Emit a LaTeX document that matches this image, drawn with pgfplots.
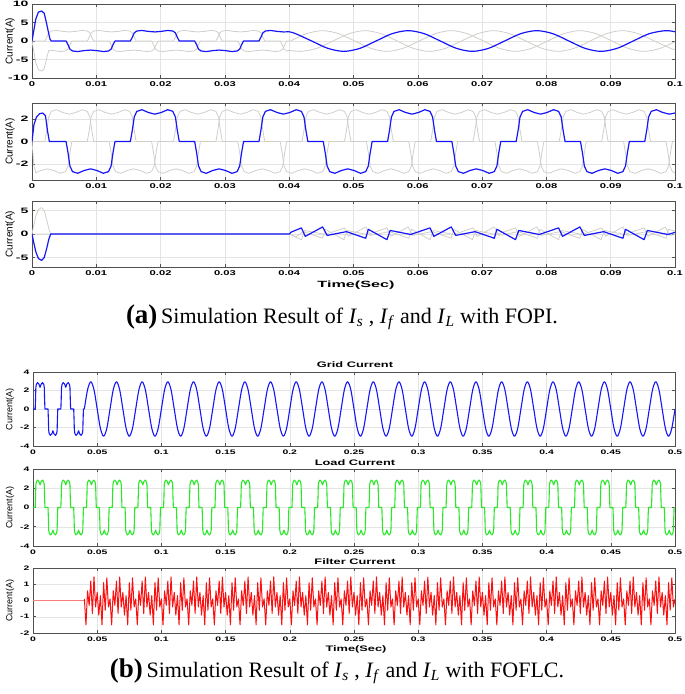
\documentclass[border=0pt]{standalone}
\usepackage{fontspec}
\setmainfont{Liberation Serif}
\newfontfamily\sansA[FakeStretch=1.8]{Liberation Sans}
\newfontfamily\sansB[FakeStretch=1.6]{Liberation Sans}
\newfontfamily\sansN{Liberation Sans}
\usepackage{pgfplots}
\pgfplotsset{compat=1.18}

\definecolor{mblue}{RGB}{22,22,250}
\definecolor{mgray}{RGB}{208,206,200}
\definecolor{mgreen}{RGB}{40,232,40}
\definecolor{mred}{RGB}{250,16,16}
\definecolor{gridc}{RGB}{228,228,228}
\definecolor{framec}{RGB}{80,80,80}

\pgfplotsset{
  panel/.style={scale only axis, anchor=north west, no marks, clip=true,
    axis line style={draw=framec,line width=0.6pt},
    tick style={draw=framec,line width=0.6pt},
    major tick length=3pt, tick align=inside,
    xmajorgrids, ymajorgrids, grid style={draw=gridc,line width=0.5pt}},
  apanel/.style={panel, width=643pt, xmin=0, xmax=100, xtick={0,10,...,100},
    xticklabels={0,0.01,0.02,0.03,0.04,0.05,0.06,0.07,0.08,0.09,0.1},
    xticklabel style={font=\sansB\bfseries\fontsize{7}{8}\selectfont},
    yticklabel style={font=\sansA\bfseries\fontsize{7.8}{8}\selectfont}},
  bpanel/.style={panel, width=642pt, xmin=0, xmax=500, xtick={0,50,...,500},
    xticklabels={0,0.05,0.1,0.15,0.2,0.25,0.3,0.35,0.4,0.45,0.5},
    ticklabel style={font=\sansB\bfseries\fontsize{6.5}{8}\selectfont}},
  bl/.style={mblue, line width=1.2pt, line join=round},
  gl/.style={mgray, line width=0.8pt, line join=round},
}

\begin{document}
\begin{tikzpicture}
\useasboundingbox (0,0) rectangle (685pt,-694pt);

% ---------------- (a) FOPI : source current ----------------
\begin{axis}[apanel, at={(32pt,-4pt)}, height=74pt, ymin=-10, ymax=10,
  ytick={-10,-5,0,5,10}, yticklabels={-10,-5,0,5,10}]
\addplot[gl] coordinates {(0,0)
(2,0)(2.3,1)(2.6,2.2)(3,2.7)(3.8,2.85)(4.8,2.6)(5.8,2.45)(6.8,2.6)(7.8,2.85)(8.6,2.7)(9,2.2)(9.3,1)(9.6,0)
(12,0)(12.3,-1)(12.6,-2.2)(13,-2.7)(13.8,-2.85)(14.8,-2.6)(15.8,-2.45)(16.8,-2.6)(17.8,-2.85)(18.6,-2.7)(19,-2.2)(19.3,-1)(19.6,0)
(22,0)(22.3,1)(22.6,2.2)(23,2.7)(23.8,2.85)(24.8,2.6)(25.8,2.45)(26.8,2.6)(27.8,2.85)(28.6,2.7)(29,2.2)(29.3,1)(29.6,0)
(32,0)(32.3,-1)(32.6,-2.2)(33,-2.7)(33.8,-2.85)(34.8,-2.6)(35.8,-2.45)(36.8,-2.6)(37.8,-2.85)(38.6,-2.7)(39,-2.2)(39.3,-1)(39.6,0)(40.2,0)};
\addplot[gl, smooth] coordinates {(40.2,0)(42.7,1.98)(45.2,2.8)(47.7,1.98)(50.2,0)(52.7,-1.98)(55.2,-2.8)(57.7,-1.98)(60.2,0)(62.7,1.98)(65.2,2.8)(67.7,1.98)(70.2,0)(72.7,-1.98)(75.2,-2.8)(77.7,-1.98)(80.2,0)(82.7,1.98)(85.2,2.8)(87.7,1.98)(90.2,0)(92.7,-1.98)(95.2,-2.8)(97.7,-1.98)(100,-0.2)};
\addplot[gl] coordinates {(0,0)(0.3,-3)(0.6,-6)(1,-7.8)(1.5,-8.1)(1.9,-7.5)(2.3,-4.5)(2.6,-2.6)(3,-2.5)(4.4,-2.85)(5.2,-2.7)(5.6,-2.2)(5.9,-1)(6.2,0)
(8.6,0)(8.9,1)(9.2,2.2)(9.6,2.7)(10.4,2.85)(11.4,2.6)(12.4,2.45)(13.4,2.6)(14.4,2.85)(15.2,2.7)(15.6,2.2)(15.9,1)(16.2,0)
(18.6,0)(18.9,-1)(19.2,-2.2)(19.6,-2.7)(20.4,-2.85)(21.4,-2.6)(22.4,-2.45)(23.4,-2.6)(24.4,-2.85)(25.2,-2.7)(25.6,-2.2)(25.9,-1)(26.2,0)
(28.6,0)(28.9,1)(29.2,2.2)(29.6,2.7)(30.4,2.85)(31.4,2.6)(32.4,2.45)(33.4,2.6)(34.4,2.85)(35.2,2.7)(35.6,2.2)(35.9,1)(36.2,0)
(38.6,0)(38.9,-1)(39.2,-2.2)(39.6,-2.7)(40,-2.5)};
\addplot[gl, smooth] coordinates {(40,-2.5)(41.8,-2.8)(44.3,-1.98)(46.8,0)(49.3,1.98)(51.8,2.8)(54.3,1.98)(56.8,0)(59.3,-1.98)(61.8,-2.8)(64.3,-1.98)(66.8,0)(69.3,1.98)(71.8,2.8)(74.3,1.98)(76.8,0)(79.3,-1.98)(81.8,-2.8)(84.3,-1.98)(86.8,0)(89.3,1.98)(91.8,2.8)(94.3,1.98)(96.8,0)(99.3,-1.98)(100,-2.36)};
\addplot[bl] coordinates {(0,0)(0.3,3)(0.6,6)(1,7.8)(1.5,8.1)(1.9,7.5)(2.3,4.5)(2.6,2)(2.8,0.5)(3,0)
(5.3,0)(5.6,-1)(5.9,-2.2)(6.3,-2.7)(7.1,-2.85)(8.1,-2.6)(9.1,-2.45)(10.1,-2.6)(11.1,-2.85)(11.9,-2.7)(12.3,-2.2)(12.6,-1)(12.9,0)
(15.3,0)(15.6,1)(15.9,2.2)(16.3,2.7)(17.1,2.85)(18.1,2.6)(19.1,2.45)(20.1,2.6)(21.1,2.85)(21.9,2.7)(22.3,2.2)(22.6,1)(22.9,0)
(25.3,0)(25.6,-1)(25.9,-2.2)(26.3,-2.7)(27.1,-2.85)(28.1,-2.6)(29.1,-2.45)(30.1,-2.6)(31.1,-2.85)(31.9,-2.7)(32.3,-2.2)(32.6,-1)(32.9,0)
(35.3,0)(35.6,1)(35.9,2.2)(36.3,2.7)(37.1,2.85)(38.1,2.6)(39.1,2.45)(40,2.5)};
\addplot[bl, smooth] coordinates {(40,2.5)(41,1.98)(43.5,0)(46,-1.98)(48.5,-2.8)(51,-1.98)(53.5,0)(56,1.98)(58.5,2.8)(61,1.98)(63.5,0)(66,-1.98)(68.5,-2.8)(71,-1.98)(73.5,0)(76,1.98)(78.5,2.8)(81,1.98)(83.5,0)(86,-1.98)(88.5,-2.8)(91,-1.98)(93.5,0)(96,1.98)(98.5,2.8)(100,2.5)};
\end{axis}

% ---------------- (a) FOPI : load current ----------------
\begin{axis}[apanel, at={(32pt,-103pt)}, height=77pt, ymin=-3.45, ymax=3.45,
  ytick={-2,0,2}, yticklabels={-2,0,2}]
\addplot[gl] coordinates {(0,0)
(2,0)(2.3,1)(2.6,2.2)(3,2.7)(3.8,2.85)(4.8,2.6)(5.8,2.45)(6.8,2.6)(7.8,2.85)(8.6,2.7)(9,2.2)(9.3,1)(9.6,0)
(12,0)(12.3,-1)(12.6,-2.2)(13,-2.7)(13.8,-2.85)(14.8,-2.6)(15.8,-2.45)(16.8,-2.6)(17.8,-2.85)(18.6,-2.7)(19,-2.2)(19.3,-1)(19.6,0)
(22,0)(22.3,1)(22.6,2.2)(23,2.7)(23.8,2.85)(24.8,2.6)(25.8,2.45)(26.8,2.6)(27.8,2.85)(28.6,2.7)(29,2.2)(29.3,1)(29.6,0)
(32,0)(32.3,-1)(32.6,-2.2)(33,-2.7)(33.8,-2.85)(34.8,-2.6)(35.8,-2.45)(36.8,-2.6)(37.8,-2.85)(38.6,-2.7)(39,-2.2)(39.3,-1)(39.6,0)
(42,0)(42.3,1)(42.6,2.2)(43,2.7)(43.8,2.85)(44.8,2.6)(45.8,2.45)(46.8,2.6)(47.8,2.85)(48.6,2.7)(49,2.2)(49.3,1)(49.6,0)
(52,0)(52.3,-1)(52.6,-2.2)(53,-2.7)(53.8,-2.85)(54.8,-2.6)(55.8,-2.45)(56.8,-2.6)(57.8,-2.85)(58.6,-2.7)(59,-2.2)(59.3,-1)(59.6,0)
(62,0)(62.3,1)(62.6,2.2)(63,2.7)(63.8,2.85)(64.8,2.6)(65.8,2.45)(66.8,2.6)(67.8,2.85)(68.6,2.7)(69,2.2)(69.3,1)(69.6,0)
(72,0)(72.3,-1)(72.6,-2.2)(73,-2.7)(73.8,-2.85)(74.8,-2.6)(75.8,-2.45)(76.8,-2.6)(77.8,-2.85)(78.6,-2.7)(79,-2.2)(79.3,-1)(79.6,0)
(82,0)(82.3,1)(82.6,2.2)(83,2.7)(83.8,2.85)(84.8,2.6)(85.8,2.45)(86.8,2.6)(87.8,2.85)(88.6,2.7)(89,2.2)(89.3,1)(89.6,0)
(92,0)(92.3,-1)(92.6,-2.2)(93,-2.7)(93.8,-2.85)(94.8,-2.6)(95.8,-2.45)(96.8,-2.6)(97.8,-2.85)(98.6,-2.7)(99,-2.2)(99.3,-1)(99.6,0)(100,0)};
\addplot[gl] coordinates {(0,0)(0.3,-2.2)(0.6,-2.8)(1.4,-2.6)(2.4,-2.45)(3.4,-2.6)(4.4,-2.85)(5.2,-2.7)(5.6,-2.2)(5.9,-1)(6.2,0)
(8.6,0)(8.9,1)(9.2,2.2)(9.6,2.7)(10.4,2.85)(11.4,2.6)(12.4,2.45)(13.4,2.6)(14.4,2.85)(15.2,2.7)(15.6,2.2)(15.9,1)(16.2,0)
(18.6,0)(18.9,-1)(19.2,-2.2)(19.6,-2.7)(20.4,-2.85)(21.4,-2.6)(22.4,-2.45)(23.4,-2.6)(24.4,-2.85)(25.2,-2.7)(25.6,-2.2)(25.9,-1)(26.2,0)
(28.6,0)(28.9,1)(29.2,2.2)(29.6,2.7)(30.4,2.85)(31.4,2.6)(32.4,2.45)(33.4,2.6)(34.4,2.85)(35.2,2.7)(35.6,2.2)(35.9,1)(36.2,0)
(38.6,0)(38.9,-1)(39.2,-2.2)(39.6,-2.7)(40.4,-2.85)(41.4,-2.6)(42.4,-2.45)(43.4,-2.6)(44.4,-2.85)(45.2,-2.7)(45.6,-2.2)(45.9,-1)(46.2,0)
(48.6,0)(48.9,1)(49.2,2.2)(49.6,2.7)(50.4,2.85)(51.4,2.6)(52.4,2.45)(53.4,2.6)(54.4,2.85)(55.2,2.7)(55.6,2.2)(55.9,1)(56.2,0)
(58.6,0)(58.9,-1)(59.2,-2.2)(59.6,-2.7)(60.4,-2.85)(61.4,-2.6)(62.4,-2.45)(63.4,-2.6)(64.4,-2.85)(65.2,-2.7)(65.6,-2.2)(65.9,-1)(66.2,0)
(68.6,0)(68.9,1)(69.2,2.2)(69.6,2.7)(70.4,2.85)(71.4,2.6)(72.4,2.45)(73.4,2.6)(74.4,2.85)(75.2,2.7)(75.6,2.2)(75.9,1)(76.2,0)
(78.6,0)(78.9,-1)(79.2,-2.2)(79.6,-2.7)(80.4,-2.85)(81.4,-2.6)(82.4,-2.45)(83.4,-2.6)(84.4,-2.85)(85.2,-2.7)(85.6,-2.2)(85.9,-1)(86.2,0)
(88.6,0)(88.9,1)(89.2,2.2)(89.6,2.7)(90.4,2.85)(91.4,2.6)(92.4,2.45)(93.4,2.6)(94.4,2.85)(95.2,2.7)(95.6,2.2)(95.9,1)(96.2,0)
(98.6,0)(98.9,-1)(99.2,-2.2)(99.6,-2.7)(100,-2.8)};
\addplot[bl] coordinates {(0,0)(0.3,1.5)(0.7,2.2)(1.2,2.5)(1.7,2.55)(2.1,2.3)(2.4,1)(2.7,0)
(5.3,0)(5.6,-1)(5.9,-2.2)(6.3,-2.7)(7.1,-2.85)(8.1,-2.6)(9.1,-2.45)(10.1,-2.6)(11.1,-2.85)(11.9,-2.7)(12.3,-2.2)(12.6,-1)(12.9,0)
(15.3,0)(15.6,1)(15.9,2.2)(16.3,2.7)(17.1,2.85)(18.1,2.6)(19.1,2.45)(20.1,2.6)(21.1,2.85)(21.9,2.7)(22.3,2.2)(22.6,1)(22.9,0)
(25.3,0)(25.6,-1)(25.9,-2.2)(26.3,-2.7)(27.1,-2.85)(28.1,-2.6)(29.1,-2.45)(30.1,-2.6)(31.1,-2.85)(31.9,-2.7)(32.3,-2.2)(32.6,-1)(32.9,0)
(35.3,0)(35.6,1)(35.9,2.2)(36.3,2.7)(37.1,2.85)(38.1,2.6)(39.1,2.45)(40.1,2.6)(41.1,2.85)(41.9,2.7)(42.3,2.2)(42.6,1)(42.9,0)
(45.3,0)(45.6,-1)(45.9,-2.2)(46.3,-2.7)(47.1,-2.85)(48.1,-2.6)(49.1,-2.45)(50.1,-2.6)(51.1,-2.85)(51.9,-2.7)(52.3,-2.2)(52.6,-1)(52.9,0)
(55.3,0)(55.6,1)(55.9,2.2)(56.3,2.7)(57.1,2.85)(58.1,2.6)(59.1,2.45)(60.1,2.6)(61.1,2.85)(61.9,2.7)(62.3,2.2)(62.6,1)(62.9,0)
(65.3,0)(65.6,-1)(65.9,-2.2)(66.3,-2.7)(67.1,-2.85)(68.1,-2.6)(69.1,-2.45)(70.1,-2.6)(71.1,-2.85)(71.9,-2.7)(72.3,-2.2)(72.6,-1)(72.9,0)
(75.3,0)(75.6,1)(75.9,2.2)(76.3,2.7)(77.1,2.85)(78.1,2.6)(79.1,2.45)(80.1,2.6)(81.1,2.85)(81.9,2.7)(82.3,2.2)(82.6,1)(82.9,0)
(85.3,0)(85.6,-1)(85.9,-2.2)(86.3,-2.7)(87.1,-2.85)(88.1,-2.6)(89.1,-2.45)(90.1,-2.6)(91.1,-2.85)(91.9,-2.7)(92.3,-2.2)(92.6,-1)(92.9,0)
(95.3,0)(95.6,1)(95.9,2.2)(96.3,2.7)(97.1,2.85)(98.1,2.6)(99.1,2.45)(100,2.55)};
\end{axis}

% ---------------- (a) FOPI : filter current ----------------
\begin{axis}[apanel, at={(32pt,-201pt)}, height=66pt, ymin=-7, ymax=7,
  ytick={-5,0,5}, yticklabels={-5,0,5}]
\addplot[gl] coordinates {(0,0)(40,0)(41.9,-1.2)(42.4,0.75)(45.6,-0.1)(48.6,1.3)(49.2,-0.5)(51.9,1.5)(52.6,-0.3)
(55.6,0.5)(58.6,-0.9)(59,1)(61.9,-1.2)(62.4,0.75)(65.6,-0.1)(68.6,1.3)(69.2,-0.5)(71.9,1.5)(72.6,-0.3)
(75.6,0.5)(78.6,-0.9)(79,1)(81.9,-1.2)(82.4,0.75)(85.6,-0.1)(88.6,1.3)(89.2,-0.5)(91.9,1.5)(92.6,-0.3)
(95.6,0.5)(98.6,-0.9)(99,1)(100,0.6)};
\addplot[gl] coordinates {(0,0)(0.3,2)(0.6,3.8)(1,5.2)(1.5,5.6)(1.9,5)(2.3,3)(2.6,1.2)(2.9,0)(40,0)(41,-0.6)
(42.2,0.5)(45.2,-0.9)(45.6,1)(48.5,-1.2)(49,0.75)(52.2,-0.1)(55.2,1.3)(55.8,-0.5)(58.5,1.5)(59.2,-0.3)
(62.2,0.5)(65.2,-0.9)(65.6,1)(68.5,-1.2)(69,0.75)(72.2,-0.1)(75.2,1.3)(75.8,-0.5)(78.5,1.5)(79.2,-0.3)
(82.2,0.5)(85.2,-0.9)(85.6,1)(88.5,-1.2)(89,0.75)(92.2,-0.1)(95.2,1.3)(95.8,-0.5)(98.5,1.5)(99.2,-0.3)(100,-0.1)};
\addplot[bl] coordinates {(0,0)(0.3,-2)(0.6,-3.8)(1,-5.2)(1.5,-5.6)(1.9,-5)(2.3,-3)(2.6,-1.2)(2.9,0)
(40,0)(40.3,0.4)(41.9,1.3)(42.5,-0.5)(45.2,1.5)(45.9,-0.3)
(48.9,0.5)(51.9,-0.9)(52.3,1)(55.2,-1.2)(55.7,0.75)(58.9,-0.1)(61.9,1.3)(62.5,-0.5)(65.2,1.5)(65.9,-0.3)
(68.9,0.5)(71.9,-0.9)(72.3,1)(75.2,-1.2)(75.7,0.75)(78.9,-0.1)(81.9,1.3)(82.5,-0.5)(85.2,1.5)(85.9,-0.3)
(88.9,0.5)(91.9,-0.9)(92.3,1)(95.2,-1.2)(95.7,0.75)(98.9,-0.1)(100,0.35)};
\end{axis}

% ---------------- (b) FOFLC : grid current ----------------
\begin{axis}[bpanel, at={(33pt,-372pt)}, height=74pt, ymin=-4, ymax=4,
  ytick={-4,-2,0,2,4}, yticklabels={-4,-2,0,2,4}]
\addplot[bl, line width=1.1pt] coordinates {(0,0)
(1.7,0)(2,1.2)(2.2,2.3)(2.6,2.65)(3.5,2.85)(4.6,2.7)(5.5,2.35)(6.4,2.7)(7.5,2.85)(8.4,2.65)(8.8,2.3)(9,1.2)(9.3,0)
(11.7,0)(12,-1.2)(12.2,-2.3)(12.6,-2.65)(13.5,-2.85)(14.6,-2.7)(15.5,-2.35)(16.4,-2.7)(17.5,-2.85)(18.4,-2.65)(18.8,-2.3)(19,-1.2)(19.3,0)
(21.7,0)(22,1.2)(22.2,2.3)(22.6,2.65)(23.5,2.85)(24.6,2.7)(25.5,2.35)(26.4,2.7)(27.5,2.85)(28.4,2.65)(28.8,2.3)(29,1.2)(29.3,0)
(31.7,0)(32,-1.2)(32.2,-2.3)(32.6,-2.65)(33.5,-2.85)(34.6,-2.7)(35.5,-2.35)(36.4,-2.7)(37.5,-2.85)(38.4,-2.65)(38.8,-2.3)(39,-1.2)(39.3,0)(40,0)};
\addplot[bl, line width=1.1pt, smooth] coordinates {
(40,0)(42.5,2.09)(45,2.95)(47.5,2.09)(50,0)(52.5,-2.09)(55,-2.95)(57.5,-2.09)
(60,0)(62.5,2.09)(65,2.95)(67.5,2.09)(70,0)(72.5,-2.09)(75,-2.95)(77.5,-2.09)
(80,0)(82.5,2.09)(85,2.95)(87.5,2.09)(90,0)(92.5,-2.09)(95,-2.95)(97.5,-2.09)
(100,0)(102.5,2.09)(105,2.95)(107.5,2.09)(110,0)(112.5,-2.09)(115,-2.95)(117.5,-2.09)
(120,0)(122.5,2.09)(125,2.95)(127.5,2.09)(130,0)(132.5,-2.09)(135,-2.95)(137.5,-2.09)
(140,0)(142.5,2.09)(145,2.95)(147.5,2.09)(150,0)(152.5,-2.09)(155,-2.95)(157.5,-2.09)
(160,0)(162.5,2.09)(165,2.95)(167.5,2.09)(170,0)(172.5,-2.09)(175,-2.95)(177.5,-2.09)
(180,0)(182.5,2.09)(185,2.95)(187.5,2.09)(190,0)(192.5,-2.09)(195,-2.95)(197.5,-2.09)
(200,0)(202.5,2.09)(205,2.95)(207.5,2.09)(210,0)(212.5,-2.09)(215,-2.95)(217.5,-2.09)
(220,0)(222.5,2.09)(225,2.95)(227.5,2.09)(230,0)(232.5,-2.09)(235,-2.95)(237.5,-2.09)
(240,0)(242.5,2.09)(245,2.95)(247.5,2.09)(250,0)(252.5,-2.09)(255,-2.95)(257.5,-2.09)
(260,0)(262.5,2.09)(265,2.95)(267.5,2.09)(270,0)(272.5,-2.09)(275,-2.95)(277.5,-2.09)
(280,0)(282.5,2.09)(285,2.95)(287.5,2.09)(290,0)(292.5,-2.09)(295,-2.95)(297.5,-2.09)
(300,0)(302.5,2.09)(305,2.95)(307.5,2.09)(310,0)(312.5,-2.09)(315,-2.95)(317.5,-2.09)
(320,0)(322.5,2.09)(325,2.95)(327.5,2.09)(330,0)(332.5,-2.09)(335,-2.95)(337.5,-2.09)
(340,0)(342.5,2.09)(345,2.95)(347.5,2.09)(350,0)(352.5,-2.09)(355,-2.95)(357.5,-2.09)
(360,0)(362.5,2.09)(365,2.95)(367.5,2.09)(370,0)(372.5,-2.09)(375,-2.95)(377.5,-2.09)
(380,0)(382.5,2.09)(385,2.95)(387.5,2.09)(390,0)(392.5,-2.09)(395,-2.95)(397.5,-2.09)
(400,0)(402.5,2.09)(405,2.95)(407.5,2.09)(410,0)(412.5,-2.09)(415,-2.95)(417.5,-2.09)
(420,0)(422.5,2.09)(425,2.95)(427.5,2.09)(430,0)(432.5,-2.09)(435,-2.95)(437.5,-2.09)
(440,0)(442.5,2.09)(445,2.95)(447.5,2.09)(450,0)(452.5,-2.09)(455,-2.95)(457.5,-2.09)
(460,0)(462.5,2.09)(465,2.95)(467.5,2.09)(470,0)(472.5,-2.09)(475,-2.95)(477.5,-2.09)
(480,0)(482.5,2.09)(485,2.95)(487.5,2.09)(490,0)(492.5,-2.09)(495,-2.95)(497.5,-2.09)(500,0)};
\end{axis}

% ---------------- (b) FOFLC : load current ----------------
\begin{axis}[bpanel, at={(33pt,-469pt)}, height=77pt, ymin=-4, ymax=4,
  ytick={-4,-2,0,2,4}, yticklabels={-4,-2,0,2,4}]
\addplot[mgreen, line width=1.1pt, line join=round] coordinates {(0,0)
(1.7,0)(2,1.2)(2.2,2.3)(2.6,2.65)(3.5,2.85)(4.6,2.7)(5.5,2.35)(6.4,2.7)(7.5,2.85)(8.4,2.65)(8.8,2.3)(9,1.2)(9.3,0)
(11.7,0)(12,-1.2)(12.2,-2.3)(12.6,-2.65)(13.5,-2.85)(14.6,-2.7)(15.5,-2.35)(16.4,-2.7)(17.5,-2.85)(18.4,-2.65)(18.8,-2.3)(19,-1.2)(19.3,0)
(21.7,0)(22,1.2)(22.2,2.3)(22.6,2.65)(23.5,2.85)(24.6,2.7)(25.5,2.35)(26.4,2.7)(27.5,2.85)(28.4,2.65)(28.8,2.3)(29,1.2)(29.3,0)
(31.7,0)(32,-1.2)(32.2,-2.3)(32.6,-2.65)(33.5,-2.85)(34.6,-2.7)(35.5,-2.35)(36.4,-2.7)(37.5,-2.85)(38.4,-2.65)(38.8,-2.3)(39,-1.2)(39.3,0)
(41.7,0)(42,1.2)(42.2,2.3)(42.6,2.65)(43.5,2.85)(44.6,2.7)(45.5,2.35)(46.4,2.7)(47.5,2.85)(48.4,2.65)(48.8,2.3)(49,1.2)(49.3,0)
(51.7,0)(52,-1.2)(52.2,-2.3)(52.6,-2.65)(53.5,-2.85)(54.6,-2.7)(55.5,-2.35)(56.4,-2.7)(57.5,-2.85)(58.4,-2.65)(58.8,-2.3)(59,-1.2)(59.3,0)
(61.7,0)(62,1.2)(62.2,2.3)(62.6,2.65)(63.5,2.85)(64.6,2.7)(65.5,2.35)(66.4,2.7)(67.5,2.85)(68.4,2.65)(68.8,2.3)(69,1.2)(69.3,0)
(71.7,0)(72,-1.2)(72.2,-2.3)(72.6,-2.65)(73.5,-2.85)(74.6,-2.7)(75.5,-2.35)(76.4,-2.7)(77.5,-2.85)(78.4,-2.65)(78.8,-2.3)(79,-1.2)(79.3,0)
(81.7,0)(82,1.2)(82.2,2.3)(82.6,2.65)(83.5,2.85)(84.6,2.7)(85.5,2.35)(86.4,2.7)(87.5,2.85)(88.4,2.65)(88.8,2.3)(89,1.2)(89.3,0)
(91.7,0)(92,-1.2)(92.2,-2.3)(92.6,-2.65)(93.5,-2.85)(94.6,-2.7)(95.5,-2.35)(96.4,-2.7)(97.5,-2.85)(98.4,-2.65)(98.8,-2.3)(99,-1.2)(99.3,0)
(101.7,0)(102,1.2)(102.2,2.3)(102.6,2.65)(103.5,2.85)(104.6,2.7)(105.5,2.35)(106.4,2.7)(107.5,2.85)(108.4,2.65)(108.8,2.3)(109,1.2)(109.3,0)
(111.7,0)(112,-1.2)(112.2,-2.3)(112.6,-2.65)(113.5,-2.85)(114.6,-2.7)(115.5,-2.35)(116.4,-2.7)(117.5,-2.85)(118.4,-2.65)(118.8,-2.3)(119,-1.2)(119.3,0)
(121.7,0)(122,1.2)(122.2,2.3)(122.6,2.65)(123.5,2.85)(124.6,2.7)(125.5,2.35)(126.4,2.7)(127.5,2.85)(128.4,2.65)(128.8,2.3)(129,1.2)(129.3,0)
(131.7,0)(132,-1.2)(132.2,-2.3)(132.6,-2.65)(133.5,-2.85)(134.6,-2.7)(135.5,-2.35)(136.4,-2.7)(137.5,-2.85)(138.4,-2.65)(138.8,-2.3)(139,-1.2)(139.3,0)
(141.7,0)(142,1.2)(142.2,2.3)(142.6,2.65)(143.5,2.85)(144.6,2.7)(145.5,2.35)(146.4,2.7)(147.5,2.85)(148.4,2.65)(148.8,2.3)(149,1.2)(149.3,0)
(151.7,0)(152,-1.2)(152.2,-2.3)(152.6,-2.65)(153.5,-2.85)(154.6,-2.7)(155.5,-2.35)(156.4,-2.7)(157.5,-2.85)(158.4,-2.65)(158.8,-2.3)(159,-1.2)(159.3,0)
(161.7,0)(162,1.2)(162.2,2.3)(162.6,2.65)(163.5,2.85)(164.6,2.7)(165.5,2.35)(166.4,2.7)(167.5,2.85)(168.4,2.65)(168.8,2.3)(169,1.2)(169.3,0)
(171.7,0)(172,-1.2)(172.2,-2.3)(172.6,-2.65)(173.5,-2.85)(174.6,-2.7)(175.5,-2.35)(176.4,-2.7)(177.5,-2.85)(178.4,-2.65)(178.8,-2.3)(179,-1.2)(179.3,0)
(181.7,0)(182,1.2)(182.2,2.3)(182.6,2.65)(183.5,2.85)(184.6,2.7)(185.5,2.35)(186.4,2.7)(187.5,2.85)(188.4,2.65)(188.8,2.3)(189,1.2)(189.3,0)
(191.7,0)(192,-1.2)(192.2,-2.3)(192.6,-2.65)(193.5,-2.85)(194.6,-2.7)(195.5,-2.35)(196.4,-2.7)(197.5,-2.85)(198.4,-2.65)(198.8,-2.3)(199,-1.2)(199.3,0)
(201.7,0)(202,1.2)(202.2,2.3)(202.6,2.65)(203.5,2.85)(204.6,2.7)(205.5,2.35)(206.4,2.7)(207.5,2.85)(208.4,2.65)(208.8,2.3)(209,1.2)(209.3,0)
(211.7,0)(212,-1.2)(212.2,-2.3)(212.6,-2.65)(213.5,-2.85)(214.6,-2.7)(215.5,-2.35)(216.4,-2.7)(217.5,-2.85)(218.4,-2.65)(218.8,-2.3)(219,-1.2)(219.3,0)
(221.7,0)(222,1.2)(222.2,2.3)(222.6,2.65)(223.5,2.85)(224.6,2.7)(225.5,2.35)(226.4,2.7)(227.5,2.85)(228.4,2.65)(228.8,2.3)(229,1.2)(229.3,0)
(231.7,0)(232,-1.2)(232.2,-2.3)(232.6,-2.65)(233.5,-2.85)(234.6,-2.7)(235.5,-2.35)(236.4,-2.7)(237.5,-2.85)(238.4,-2.65)(238.8,-2.3)(239,-1.2)(239.3,0)
(241.7,0)(242,1.2)(242.2,2.3)(242.6,2.65)(243.5,2.85)(244.6,2.7)(245.5,2.35)(246.4,2.7)(247.5,2.85)(248.4,2.65)(248.8,2.3)(249,1.2)(249.3,0)
(251.7,0)(252,-1.2)(252.2,-2.3)(252.6,-2.65)(253.5,-2.85)(254.6,-2.7)(255.5,-2.35)(256.4,-2.7)(257.5,-2.85)(258.4,-2.65)(258.8,-2.3)(259,-1.2)(259.3,0)
(261.7,0)(262,1.2)(262.2,2.3)(262.6,2.65)(263.5,2.85)(264.6,2.7)(265.5,2.35)(266.4,2.7)(267.5,2.85)(268.4,2.65)(268.8,2.3)(269,1.2)(269.3,0)
(271.7,0)(272,-1.2)(272.2,-2.3)(272.6,-2.65)(273.5,-2.85)(274.6,-2.7)(275.5,-2.35)(276.4,-2.7)(277.5,-2.85)(278.4,-2.65)(278.8,-2.3)(279,-1.2)(279.3,0)
(281.7,0)(282,1.2)(282.2,2.3)(282.6,2.65)(283.5,2.85)(284.6,2.7)(285.5,2.35)(286.4,2.7)(287.5,2.85)(288.4,2.65)(288.8,2.3)(289,1.2)(289.3,0)
(291.7,0)(292,-1.2)(292.2,-2.3)(292.6,-2.65)(293.5,-2.85)(294.6,-2.7)(295.5,-2.35)(296.4,-2.7)(297.5,-2.85)(298.4,-2.65)(298.8,-2.3)(299,-1.2)(299.3,0)
(301.7,0)(302,1.2)(302.2,2.3)(302.6,2.65)(303.5,2.85)(304.6,2.7)(305.5,2.35)(306.4,2.7)(307.5,2.85)(308.4,2.65)(308.8,2.3)(309,1.2)(309.3,0)
(311.7,0)(312,-1.2)(312.2,-2.3)(312.6,-2.65)(313.5,-2.85)(314.6,-2.7)(315.5,-2.35)(316.4,-2.7)(317.5,-2.85)(318.4,-2.65)(318.8,-2.3)(319,-1.2)(319.3,0)
(321.7,0)(322,1.2)(322.2,2.3)(322.6,2.65)(323.5,2.85)(324.6,2.7)(325.5,2.35)(326.4,2.7)(327.5,2.85)(328.4,2.65)(328.8,2.3)(329,1.2)(329.3,0)
(331.7,0)(332,-1.2)(332.2,-2.3)(332.6,-2.65)(333.5,-2.85)(334.6,-2.7)(335.5,-2.35)(336.4,-2.7)(337.5,-2.85)(338.4,-2.65)(338.8,-2.3)(339,-1.2)(339.3,0)
(341.7,0)(342,1.2)(342.2,2.3)(342.6,2.65)(343.5,2.85)(344.6,2.7)(345.5,2.35)(346.4,2.7)(347.5,2.85)(348.4,2.65)(348.8,2.3)(349,1.2)(349.3,0)
(351.7,0)(352,-1.2)(352.2,-2.3)(352.6,-2.65)(353.5,-2.85)(354.6,-2.7)(355.5,-2.35)(356.4,-2.7)(357.5,-2.85)(358.4,-2.65)(358.8,-2.3)(359,-1.2)(359.3,0)
(361.7,0)(362,1.2)(362.2,2.3)(362.6,2.65)(363.5,2.85)(364.6,2.7)(365.5,2.35)(366.4,2.7)(367.5,2.85)(368.4,2.65)(368.8,2.3)(369,1.2)(369.3,0)
(371.7,0)(372,-1.2)(372.2,-2.3)(372.6,-2.65)(373.5,-2.85)(374.6,-2.7)(375.5,-2.35)(376.4,-2.7)(377.5,-2.85)(378.4,-2.65)(378.8,-2.3)(379,-1.2)(379.3,0)
(381.7,0)(382,1.2)(382.2,2.3)(382.6,2.65)(383.5,2.85)(384.6,2.7)(385.5,2.35)(386.4,2.7)(387.5,2.85)(388.4,2.65)(388.8,2.3)(389,1.2)(389.3,0)
(391.7,0)(392,-1.2)(392.2,-2.3)(392.6,-2.65)(393.5,-2.85)(394.6,-2.7)(395.5,-2.35)(396.4,-2.7)(397.5,-2.85)(398.4,-2.65)(398.8,-2.3)(399,-1.2)(399.3,0)
(401.7,0)(402,1.2)(402.2,2.3)(402.6,2.65)(403.5,2.85)(404.6,2.7)(405.5,2.35)(406.4,2.7)(407.5,2.85)(408.4,2.65)(408.8,2.3)(409,1.2)(409.3,0)
(411.7,0)(412,-1.2)(412.2,-2.3)(412.6,-2.65)(413.5,-2.85)(414.6,-2.7)(415.5,-2.35)(416.4,-2.7)(417.5,-2.85)(418.4,-2.65)(418.8,-2.3)(419,-1.2)(419.3,0)
(421.7,0)(422,1.2)(422.2,2.3)(422.6,2.65)(423.5,2.85)(424.6,2.7)(425.5,2.35)(426.4,2.7)(427.5,2.85)(428.4,2.65)(428.8,2.3)(429,1.2)(429.3,0)
(431.7,0)(432,-1.2)(432.2,-2.3)(432.6,-2.65)(433.5,-2.85)(434.6,-2.7)(435.5,-2.35)(436.4,-2.7)(437.5,-2.85)(438.4,-2.65)(438.8,-2.3)(439,-1.2)(439.3,0)
(441.7,0)(442,1.2)(442.2,2.3)(442.6,2.65)(443.5,2.85)(444.6,2.7)(445.5,2.35)(446.4,2.7)(447.5,2.85)(448.4,2.65)(448.8,2.3)(449,1.2)(449.3,0)
(451.7,0)(452,-1.2)(452.2,-2.3)(452.6,-2.65)(453.5,-2.85)(454.6,-2.7)(455.5,-2.35)(456.4,-2.7)(457.5,-2.85)(458.4,-2.65)(458.8,-2.3)(459,-1.2)(459.3,0)
(461.7,0)(462,1.2)(462.2,2.3)(462.6,2.65)(463.5,2.85)(464.6,2.7)(465.5,2.35)(466.4,2.7)(467.5,2.85)(468.4,2.65)(468.8,2.3)(469,1.2)(469.3,0)
(471.7,0)(472,-1.2)(472.2,-2.3)(472.6,-2.65)(473.5,-2.85)(474.6,-2.7)(475.5,-2.35)(476.4,-2.7)(477.5,-2.85)(478.4,-2.65)(478.8,-2.3)(479,-1.2)(479.3,0)
(481.7,0)(482,1.2)(482.2,2.3)(482.6,2.65)(483.5,2.85)(484.6,2.7)(485.5,2.35)(486.4,2.7)(487.5,2.85)(488.4,2.65)(488.8,2.3)(489,1.2)(489.3,0)
(491.7,0)(492,-1.2)(492.2,-2.3)(492.6,-2.65)(493.5,-2.85)(494.6,-2.7)(495.5,-2.35)(496.4,-2.7)(497.5,-2.85)(498.4,-2.65)(498.8,-2.3)(499,-1.2)(499.3,0)(500,0)};
\end{axis}

% ---------------- (b) FOFLC : filter current ----------------
\begin{axis}[bpanel, at={(33pt,-568pt)}, height=65pt, ymin=-2, ymax=2,
  ytick={-2,-1,0,1,2}, yticklabels={-2,-1,0,1,2}]
\addplot[mred!55, line width=0.8pt] coordinates {(0,0)(40,0)};
\addplot[mred, line width=1.0pt, line join=round] coordinates {
(40,0.1)(41.25,-1.5)(42.5,0.6)(43.75,-0.3)(45,1.2)(46.25,-0.8)(47.5,1.45)(48.75,-0.4)(50,0.5)(51.25,-0.9)(52.5,0.3)(53.75,-1.5)(55,1.1)(56.25,-0.6)(57.5,1.4)(58.75,-0.4)
(60,0.1)(61.25,-1.5)(62.5,0.6)(63.75,-0.3)(65,1.2)(66.25,-0.8)(67.5,1.45)(68.75,-0.4)(70,0.5)(71.25,-0.9)(72.5,0.3)(73.75,-1.5)(75,1.1)(76.25,-0.6)(77.5,1.4)(78.75,-0.4)
(80,0.1)(81.25,-1.5)(82.5,0.6)(83.75,-0.3)(85,1.2)(86.25,-0.8)(87.5,1.45)(88.75,-0.4)(90,0.5)(91.25,-0.9)(92.5,0.3)(93.75,-1.5)(95,1.1)(96.25,-0.6)(97.5,1.4)(98.75,-0.4)
(100,0.1)(101.25,-1.5)(102.5,0.6)(103.75,-0.3)(105,1.2)(106.25,-0.8)(107.5,1.45)(108.75,-0.4)(110,0.5)(111.25,-0.9)(112.5,0.3)(113.75,-1.5)(115,1.1)(116.25,-0.6)(117.5,1.4)(118.75,-0.4)
(120,0.1)(121.25,-1.5)(122.5,0.6)(123.75,-0.3)(125,1.2)(126.25,-0.8)(127.5,1.45)(128.75,-0.4)(130,0.5)(131.25,-0.9)(132.5,0.3)(133.75,-1.5)(135,1.1)(136.25,-0.6)(137.5,1.4)(138.75,-0.4)
(140,0.1)(141.25,-1.5)(142.5,0.6)(143.75,-0.3)(145,1.2)(146.25,-0.8)(147.5,1.45)(148.75,-0.4)(150,0.5)(151.25,-0.9)(152.5,0.3)(153.75,-1.5)(155,1.1)(156.25,-0.6)(157.5,1.4)(158.75,-0.4)
(160,0.1)(161.25,-1.5)(162.5,0.6)(163.75,-0.3)(165,1.2)(166.25,-0.8)(167.5,1.45)(168.75,-0.4)(170,0.5)(171.25,-0.9)(172.5,0.3)(173.75,-1.5)(175,1.1)(176.25,-0.6)(177.5,1.4)(178.75,-0.4)
(180,0.1)(181.25,-1.5)(182.5,0.6)(183.75,-0.3)(185,1.2)(186.25,-0.8)(187.5,1.45)(188.75,-0.4)(190,0.5)(191.25,-0.9)(192.5,0.3)(193.75,-1.5)(195,1.1)(196.25,-0.6)(197.5,1.4)(198.75,-0.4)
(200,0.1)(201.25,-1.5)(202.5,0.6)(203.75,-0.3)(205,1.2)(206.25,-0.8)(207.5,1.45)(208.75,-0.4)(210,0.5)(211.25,-0.9)(212.5,0.3)(213.75,-1.5)(215,1.1)(216.25,-0.6)(217.5,1.4)(218.75,-0.4)
(220,0.1)(221.25,-1.5)(222.5,0.6)(223.75,-0.3)(225,1.2)(226.25,-0.8)(227.5,1.45)(228.75,-0.4)(230,0.5)(231.25,-0.9)(232.5,0.3)(233.75,-1.5)(235,1.1)(236.25,-0.6)(237.5,1.4)(238.75,-0.4)
(240,0.1)(241.25,-1.5)(242.5,0.6)(243.75,-0.3)(245,1.2)(246.25,-0.8)(247.5,1.45)(248.75,-0.4)(250,0.5)(251.25,-0.9)(252.5,0.3)(253.75,-1.5)(255,1.1)(256.25,-0.6)(257.5,1.4)(258.75,-0.4)
(260,0.1)(261.25,-1.5)(262.5,0.6)(263.75,-0.3)(265,1.2)(266.25,-0.8)(267.5,1.45)(268.75,-0.4)(270,0.5)(271.25,-0.9)(272.5,0.3)(273.75,-1.5)(275,1.1)(276.25,-0.6)(277.5,1.4)(278.75,-0.4)
(280,0.1)(281.25,-1.5)(282.5,0.6)(283.75,-0.3)(285,1.2)(286.25,-0.8)(287.5,1.45)(288.75,-0.4)(290,0.5)(291.25,-0.9)(292.5,0.3)(293.75,-1.5)(295,1.1)(296.25,-0.6)(297.5,1.4)(298.75,-0.4)
(300,0.1)(301.25,-1.5)(302.5,0.6)(303.75,-0.3)(305,1.2)(306.25,-0.8)(307.5,1.45)(308.75,-0.4)(310,0.5)(311.25,-0.9)(312.5,0.3)(313.75,-1.5)(315,1.1)(316.25,-0.6)(317.5,1.4)(318.75,-0.4)
(320,0.1)(321.25,-1.5)(322.5,0.6)(323.75,-0.3)(325,1.2)(326.25,-0.8)(327.5,1.45)(328.75,-0.4)(330,0.5)(331.25,-0.9)(332.5,0.3)(333.75,-1.5)(335,1.1)(336.25,-0.6)(337.5,1.4)(338.75,-0.4)
(340,0.1)(341.25,-1.5)(342.5,0.6)(343.75,-0.3)(345,1.2)(346.25,-0.8)(347.5,1.45)(348.75,-0.4)(350,0.5)(351.25,-0.9)(352.5,0.3)(353.75,-1.5)(355,1.1)(356.25,-0.6)(357.5,1.4)(358.75,-0.4)
(360,0.1)(361.25,-1.5)(362.5,0.6)(363.75,-0.3)(365,1.2)(366.25,-0.8)(367.5,1.45)(368.75,-0.4)(370,0.5)(371.25,-0.9)(372.5,0.3)(373.75,-1.5)(375,1.1)(376.25,-0.6)(377.5,1.4)(378.75,-0.4)
(380,0.1)(381.25,-1.5)(382.5,0.6)(383.75,-0.3)(385,1.2)(386.25,-0.8)(387.5,1.45)(388.75,-0.4)(390,0.5)(391.25,-0.9)(392.5,0.3)(393.75,-1.5)(395,1.1)(396.25,-0.6)(397.5,1.4)(398.75,-0.4)
(400,0.1)(401.25,-1.5)(402.5,0.6)(403.75,-0.3)(405,1.2)(406.25,-0.8)(407.5,1.45)(408.75,-0.4)(410,0.5)(411.25,-0.9)(412.5,0.3)(413.75,-1.5)(415,1.1)(416.25,-0.6)(417.5,1.4)(418.75,-0.4)
(420,0.1)(421.25,-1.5)(422.5,0.6)(423.75,-0.3)(425,1.2)(426.25,-0.8)(427.5,1.45)(428.75,-0.4)(430,0.5)(431.25,-0.9)(432.5,0.3)(433.75,-1.5)(435,1.1)(436.25,-0.6)(437.5,1.4)(438.75,-0.4)
(440,0.1)(441.25,-1.5)(442.5,0.6)(443.75,-0.3)(445,1.2)(446.25,-0.8)(447.5,1.45)(448.75,-0.4)(450,0.5)(451.25,-0.9)(452.5,0.3)(453.75,-1.5)(455,1.1)(456.25,-0.6)(457.5,1.4)(458.75,-0.4)
(460,0.1)(461.25,-1.5)(462.5,0.6)(463.75,-0.3)(465,1.2)(466.25,-0.8)(467.5,1.45)(468.75,-0.4)(470,0.5)(471.25,-0.9)(472.5,0.3)(473.75,-1.5)(475,1.1)(476.25,-0.6)(477.5,1.4)(478.75,-0.4)
(480,0.1)(481.25,-1.5)(482.5,0.6)(483.75,-0.3)(485,1.2)(486.25,-0.8)(487.5,1.45)(488.75,-0.4)(490,0.5)(491.25,-0.9)(492.5,0.3)(493.75,-1.5)(495,1.1)(496.25,-0.6)(497.5,1.4)(498.75,-0.4)(500,0.1)};
\end{axis}

% ---------------- labels and captions ----------------
\begin{scope}[every node/.style={inner sep=0pt}]
\node[rotate=90, font=\sansN\fontsize{10}{10}\selectfont] at (10pt,-41pt) {Current(A)};
\node[rotate=90, font=\sansN\fontsize{10}{10}\selectfont] at (10pt,-141.5pt) {Current(A)};
\node[rotate=90, font=\sansN\fontsize{10}{10}\selectfont] at (10pt,-234pt) {Current(A)};
\node[rotate=90, font=\sansN\fontsize{9}{9}\selectfont] at (10pt,-409pt) {Current(A)};
\node[rotate=90, font=\sansN\fontsize{9}{9}\selectfont] at (10pt,-507.5pt) {Current(A)};
\node[rotate=90, font=\sansN\fontsize{9}{9}\selectfont] at (10pt,-600.5pt) {Current(A)};
\node[font=\sansA\bfseries\fontsize{9}{9}\selectfont] at (356pt,-285pt) {Time(Sec)};
\node[font=\sansB\bfseries\fontsize{8}{8}\selectfont] at (356pt,-649pt) {Time(Sec)};
\node[font=\sansB\bfseries\fontsize{8}{8}\selectfont] at (355pt,-365pt) {Grid Current};
\node[font=\sansB\bfseries\fontsize{8}{8}\selectfont] at (355pt,-463pt) {Load Current};
\node[font=\sansB\bfseries\fontsize{8}{8}\selectfont] at (355pt,-562pt) {Filter Current};
\node[anchor=base, font=\fontsize{22}{26}\selectfont] at (342pt,-323pt)
  {{\fontsize{27}{30}\selectfont\bfseries (a)}\,Simulation Result of \textit{I}\textsubscript{\textit{s}} , \textit{I}\textsubscript{\textit{f}} and \textit{I}\textsubscript{\textit{L}} with FOPI.};
\node[anchor=base, font=\fontsize{22}{26}\selectfont] at (337pt,-677pt)
  {{\fontsize{27}{30}\selectfont\bfseries (b)}\,Simulation Result of \textit{I}\textsubscript{\textit{s}} , \textit{I}\textsubscript{\textit{f}} and \textit{I}\textsubscript{\textit{L}} with FOFLC.};
\end{scope}
\end{tikzpicture}
\end{document}
